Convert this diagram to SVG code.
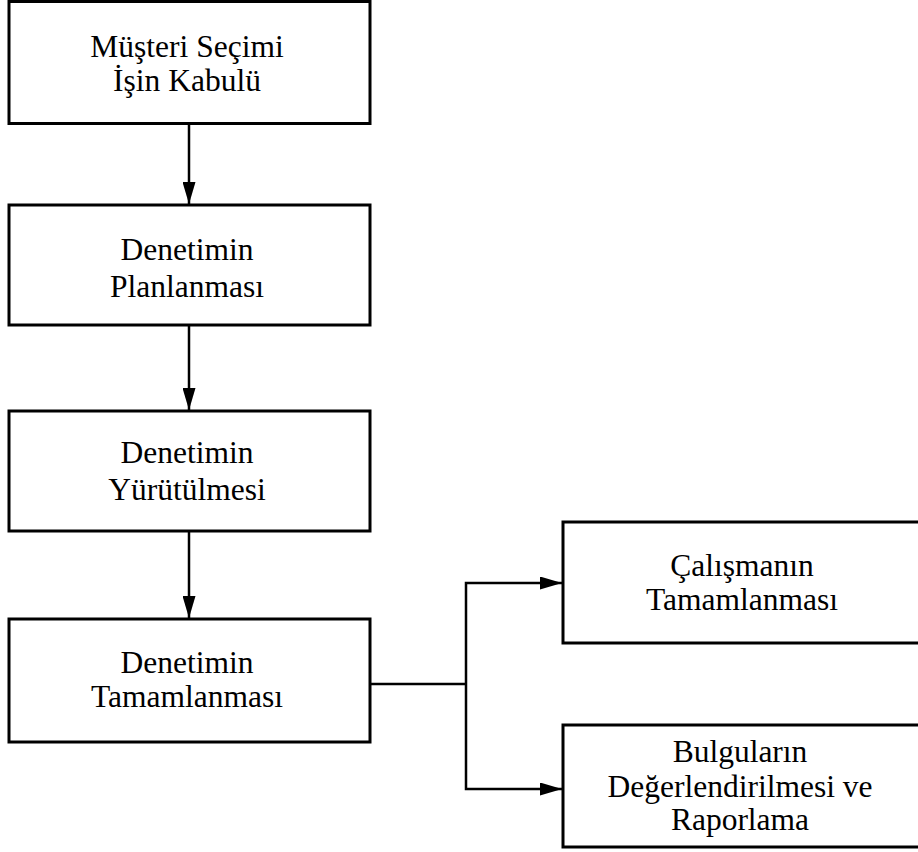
<svg xmlns="http://www.w3.org/2000/svg" width="918" height="852" viewBox="0 0 918 852">
<style>
.box{fill:#fff;stroke:#000;stroke-width:3}
.lbl{font-family:"Liberation Serif","Times New Roman",serif;font-size:31.5px;fill:#000;text-anchor:middle}
.con{fill:none;stroke:#000;stroke-width:2.5}
</style>
<defs>
<marker id="ah" viewBox="0 0 22 13" refX="22" refY="6.5" markerWidth="22" markerHeight="13" markerUnits="userSpaceOnUse" orient="auto">
<path d="M0,0 L22,6.5 L0,13 Z" fill="#000"/>
</marker>
</defs>
<rect width="918" height="852" fill="#fff"/>
<g id="connectors">
<line class="con" x1="189" y1="123" x2="189" y2="204" marker-end="url(#ah)"/>
<line class="con" x1="189" y1="325" x2="189" y2="410" marker-end="url(#ah)"/>
<line class="con" x1="189" y1="531" x2="189" y2="618" marker-end="url(#ah)"/>
<polyline class="con" points="370,684 466,684"/>
<polyline class="con" points="466,684 466,583 562,583" marker-end="url(#ah)"/>
<polyline class="con" points="466,684 466,789 562,789" marker-end="url(#ah)"/>
</g>
<g id="n1">
<rect class="box" x="9" y="1.5" width="361" height="122"/>
<text class="lbl" x="187" y="57">Müşteri Seçimi</text>
<text class="lbl" x="187" y="91">İşin Kabulü</text>
</g>
<g id="n2">
<rect class="box" x="9" y="205" width="361" height="120"/>
<text class="lbl" x="187" y="260">Denetimin</text>
<text class="lbl" x="187" y="297">Planlanması</text>
</g>
<g id="n3">
<rect class="box" x="9" y="411" width="361" height="120"/>
<text class="lbl" x="187" y="463">Denetimin</text>
<text class="lbl" x="187" y="500">Yürütülmesi</text>
</g>
<g id="n4">
<rect class="box" x="9" y="619" width="361" height="123"/>
<text class="lbl" x="187" y="673">Denetimin</text>
<text class="lbl" x="187" y="707">Tamamlanması</text>
</g>
<g id="n5">
<rect class="box" x="563" y="522" width="360" height="121"/>
<text class="lbl" x="742" y="576">Çalışmanın</text>
<text class="lbl" x="742" y="610">Tamamlanması</text>
</g>
<g id="n6">
<rect class="box" x="563" y="725" width="360" height="122"/>
<text class="lbl" x="740" y="762">Bulguların</text>
<text class="lbl" x="740" y="797">Değerlendirilmesi ve</text>
<text class="lbl" x="740" y="830">Raporlama</text>
</g>
</svg>
